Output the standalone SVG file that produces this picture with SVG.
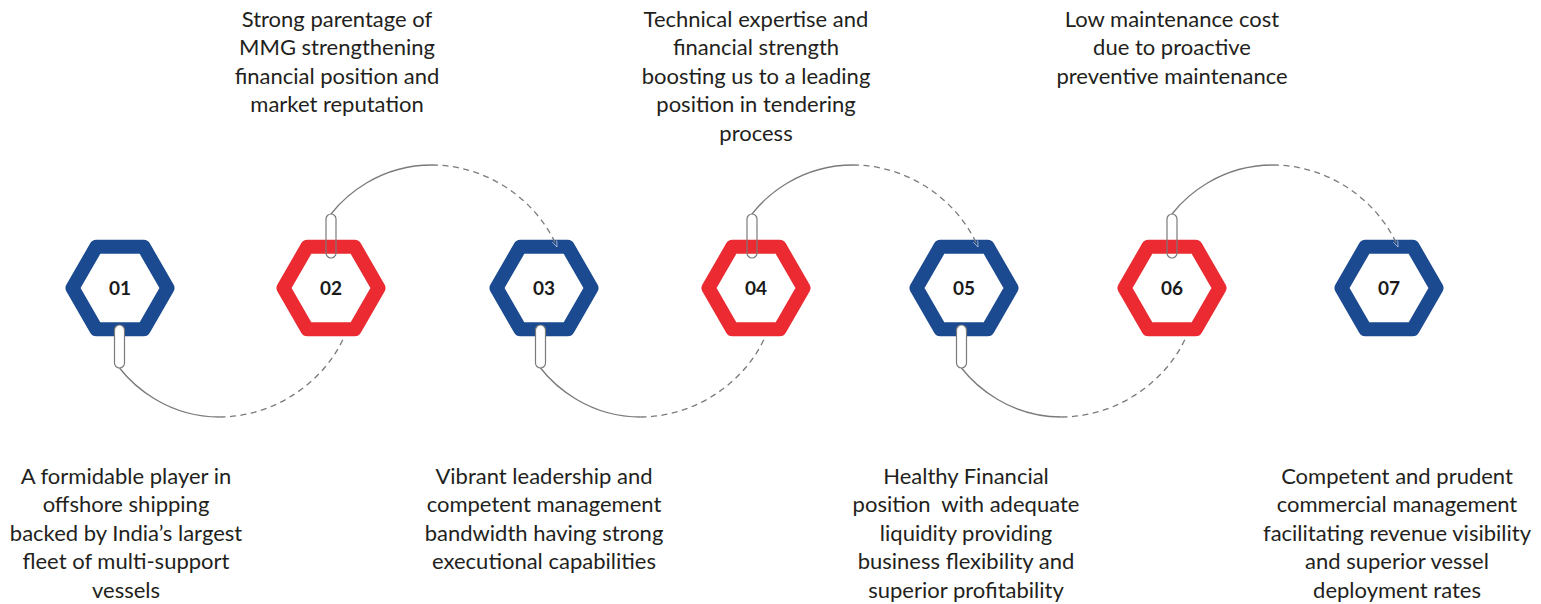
<svg xmlns="http://www.w3.org/2000/svg" xmlns:xlink="http://www.w3.org/1999/xlink" width="1541" height="604" viewBox="0 0 1541 604">
<defs>
<style>
.hex{fill:#ffffff;stroke-width:14;stroke-linejoin:round}
.blue{stroke:#1b4a91}
.red{stroke:#eb2a32}
.num{font-family:Lato,"Liberation Sans",sans-serif;font-weight:bold;font-size:19px;fill:#1a1a1a;text-anchor:middle}
.lbl{font-family:Lato,"Liberation Sans",sans-serif;font-size:22px;fill:#231f20;text-anchor:middle}
.solid{fill:none;stroke:#7a7a7a;stroke-width:1.3}
.dash{fill:none;stroke:#7a7a7a;stroke-width:1.3;stroke-dasharray:6 4.5}
.pin{stroke:#7a7a7a;stroke-width:1.2}
</style>
<polygon id="hexshape" points="-47.5,0 -23.75,-41.14 23.75,-41.14 47.5,0 23.75,41.14 -23.75,41.14"/>
<marker id="arr" viewBox="0 0 10 8" refX="9" refY="4" markerWidth="7" markerHeight="6" orient="auto" markerUnits="userSpaceOnUse">
<path d="M0,0.5 L9,4 L0,7.5" fill="none" stroke="#c8cdd8" stroke-width="1"/>
</marker>
</defs>
<rect width="1541" height="604" fill="#ffffff"/>

<g id="node01">
<use xlink:href="#hexshape" href="#hexshape" transform="translate(120,288)" class="hex blue"/>
<text class="num" x="120" y="295">01</text>
<text class="lbl"><tspan x="126" y="483.5">A formidable player in</tspan><tspan x="126" y="512">offshore shipping</tspan><tspan x="126" y="540.5">backed by India’s largest</tspan><tspan x="126" y="569">fleet of multi-support</tspan><tspan x="126" y="597.5">vessels</tspan></text>
</g>

<g id="node02">
<use xlink:href="#hexshape" href="#hexshape" transform="translate(331,288)" class="hex red"/>
<text class="num" x="331" y="295">02</text>
<text class="lbl"><tspan x="337" y="26.7">Strong parentage of</tspan><tspan x="337" y="55.2">MMG strengthening</tspan><tspan x="337" y="83.7">financial position and</tspan><tspan x="337" y="112.2">market reputation</tspan></text>
</g>

<g id="node03">
<use xlink:href="#hexshape" href="#hexshape" transform="translate(544,288)" class="hex blue"/>
<text class="num" x="544" y="295">03</text>
<text class="lbl"><tspan x="544" y="483.5">Vibrant leadership and</tspan><tspan x="544" y="512">competent management</tspan><tspan x="544" y="540.5">bandwidth having strong</tspan><tspan x="544" y="569">executional capabilities</tspan></text>
</g>

<g id="node04">
<use xlink:href="#hexshape" href="#hexshape" transform="translate(756,288)" class="hex red"/>
<text class="num" x="756" y="295">04</text>
<text class="lbl"><tspan x="756" y="26.7">Technical expertise and</tspan><tspan x="756" y="55.2">financial strength</tspan><tspan x="756" y="83.7">boosting us to a leading</tspan><tspan x="756" y="112.2">position in tendering</tspan><tspan x="756" y="140.7">process</tspan></text>
</g>

<g id="node05">
<use xlink:href="#hexshape" href="#hexshape" transform="translate(964,288)" class="hex blue"/>
<text class="num" x="964" y="295">05</text>
<text class="lbl" xml:space="preserve"><tspan x="966" y="483.5">Healthy Financial</tspan><tspan x="966" y="512">position  with adequate</tspan><tspan x="966" y="540.5">liquidity providing</tspan><tspan x="966" y="569">business flexibility and</tspan><tspan x="966" y="597.5">superior profitability</tspan></text>
</g>

<g id="node06">
<use xlink:href="#hexshape" href="#hexshape" transform="translate(1172,288)" class="hex red"/>
<text class="num" x="1172" y="295">06</text>
<text class="lbl"><tspan x="1172" y="26.7">Low maintenance cost</tspan><tspan x="1172" y="55.2">due to proactive</tspan><tspan x="1172" y="83.7">preventive maintenance</tspan></text>
</g>

<g id="node07">
<use xlink:href="#hexshape" href="#hexshape" transform="translate(1389,288)" class="hex blue"/>
<text class="num" x="1389" y="295">07</text>
<text class="lbl"><tspan x="1397" y="483.5">Competent and prudent</tspan><tspan x="1397" y="512">commercial management</tspan><tspan x="1397" y="540.5">facilitating revenue visibility</tspan><tspan x="1397" y="569">and superior vessel</tspan><tspan x="1397" y="597.5">deployment rates</tspan></text>
</g>

<g id="connectors">
<!-- 01 -> 02 (bottom) -->
<rect class="pin" x="114.5" y="325" width="10" height="43" rx="5" fill="#ffffff"/>
<path class="solid" d="M119.5,368 c14,18 48,49 100,49"/>
<path class="dash" d="M219.5,417 c55,0 105,-35 125,-81"/>
<!-- 02 -> 03 (top) -->
<rect class="pin" x="326" y="214" width="10" height="44" rx="5" fill="none"/>
<path class="solid" d="M331,214 c14,-18 48,-49 101,-49"/>
<path class="dash" d="M432,165 c55,0 105,35 125,82" marker-end="url(#arr)"/>
<!-- 03 -> 04 (bottom) -->
<rect class="pin" x="535.5" y="325" width="10" height="43" rx="5" fill="#ffffff"/>
<path class="solid" d="M540.5,368 c14,18 48,49 100,49"/>
<path class="dash" d="M640.5,417 c55,0 105,-35 125,-81"/>
<!-- 04 -> 05 (top) -->
<rect class="pin" x="747" y="214" width="10" height="44" rx="5" fill="none"/>
<path class="solid" d="M752,214 c14,-18 48,-49 101,-49"/>
<path class="dash" d="M853,165 c55,0 105,35 125,82" marker-end="url(#arr)"/>
<!-- 05 -> 06 (bottom) -->
<rect class="pin" x="956.5" y="325" width="10" height="43" rx="5" fill="#ffffff"/>
<path class="solid" d="M961.5,368 c14,18 48,49 100,49"/>
<path class="dash" d="M1061.5,417 c55,0 105,-35 125,-81"/>
<!-- 06 -> 07 (top) -->
<rect class="pin" x="1167" y="214" width="10" height="44" rx="5" fill="none"/>
<path class="solid" d="M1172,214 c14,-18 48,-49 101,-49"/>
<path class="dash" d="M1273,165 c55,0 105,35 125,82" marker-end="url(#arr)"/>
</g>
</svg>
